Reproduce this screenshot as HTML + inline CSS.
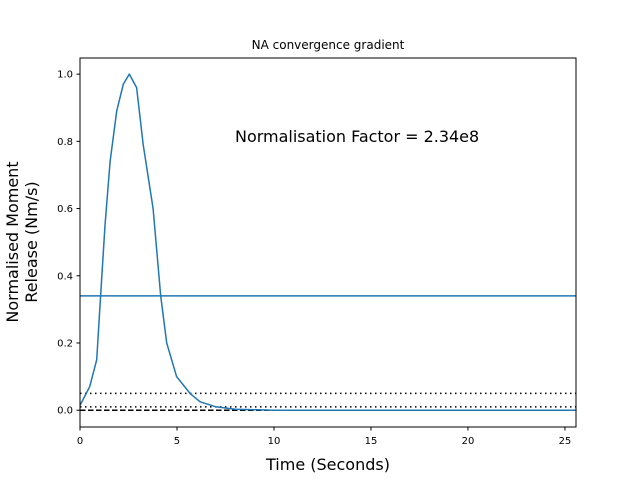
<!DOCTYPE html>
<html><head><meta charset="utf-8"><style>
body{margin:0;background:#fff;font-family:"Liberation Sans","DejaVu Sans",sans-serif}
svg text{font-family:"DejaVu Sans","Liberation Sans",sans-serif}
</style></head><body>
<svg id="c" width="640" height="480" viewBox="0 0 640 480">
<rect width="640" height="480" fill="#fff"/>
<g id="plot"></g>
</svg>
<script>
const times=[0,0.05,0.5,0.86,1.06,1.29,1.55,1.89,2.23,2.54,2.92,3.26,3.77,4.16,4.47,4.98,5.67,6.19,7,8,10,25.6];
const moments=[0.015,0.02,0.07,0.15,0.34,0.55,0.74,0.89,0.97,1.0,0.96,0.79,0.60,0.34,0.2,0.10,0.05,0.025,0.01,0.003,0,0];
const xTicks=[0,5,10,15,20,25];
const yTicks=[0.0,0.2,0.4,0.6,0.8,1.0];
const meanLevel=[0.34];
const dottedLevels=[0.05,0.01];
const dashedLevels=[0];
const L=80,R=576,T=58,B=427,xmin=0,xmax=25.57,ymin=-0.05,ymax=1.048;
const X=v=>L+(v-xmin)/(xmax-xmin)*(R-L);
const Y=v=>B-(v-ymin)/(ymax-ymin)*(B-T);
const NS="http://www.w3.org/2000/svg",g=document.getElementById('plot');
function mk(t,a){const e=document.createElementNS(NS,t);for(const k in a)e.setAttribute(k,a[k]);g.appendChild(e);return e;}
function hline(v,style,color,name){const e=mk('line',{x1:L,x2:R,y1:Y(v),y2:Y(v),stroke:color,'stroke-width':1.5,'stroke-dasharray':style});

}
meanLevel.forEach(v=>hline(v,'none','#1f77b4','mean-line'));
dottedLevels.forEach(v=>hline(v,'1.5,3.5','#000','dotted-threshold'));
dashedLevels.forEach(v=>hline(v,'5.5,2.5','#000','dashed-zero-line'));
const p=mk('path',{d:times.map((t,i)=>(i?'L':'M')+X(t).toFixed(1)+','+Y(moments[i]).toFixed(1)).join(''),fill:'none',stroke:'#1f77b4','stroke-width':1.5,'stroke-linejoin':'round'});


const fr=mk('rect',{x:L,y:T,width:R-L,height:B-T,fill:'none',stroke:'#000','stroke-width':1});


xTicks.forEach(v=>{const x=X(v);mk('line',{x1:x,x2:x,y1:B,y2:B+3.5,stroke:'#000'});
const t=mk('text',{x:x,y:B+17,'text-anchor':'middle','font-size':10});t.textContent=v;

});
yTicks.forEach(v=>{const y=Y(v);mk('line',{x1:L-3.5,x2:L,y1:y,y2:y,stroke:'#000'});
const t=mk('text',{x:L-7,y:y+3.5,'text-anchor':'end','font-size':10});t.textContent=v.toFixed(1);

});
function txt(s,a,name){const t=mk('text',a);t.textContent=s;

return t;}
txt('NA convergence gradient',{x:328,y:49,'text-anchor':'middle','font-size':12},'chart-title');
txt('Normalisation Factor = 2.34e8',{x:235,y:142,'font-size':12*1.333},'normalisation-annotation');
txt('Time (Seconds)',{x:328,y:470,'text-anchor':'middle','font-size':16},'x-axis-title');
const yl=txt('',{transform:'translate(0,242) rotate(-90)','text-anchor':'middle','font-size':16},'y-axis-title');
yl.innerHTML='<tspan x="0" y="18">Normalised Moment</tspan><tspan x="0" y="37">Release (Nm/s)</tspan>';
</script>
</body></html>
